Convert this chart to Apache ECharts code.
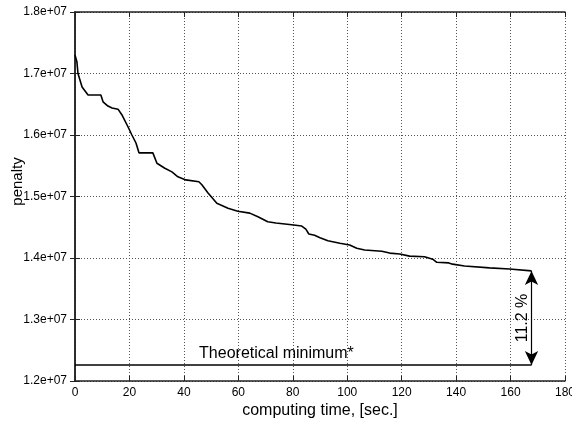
<!DOCTYPE html>
<html>
<head>
<meta charset="utf-8">
<script src="https://cdn.jsdelivr.net/npm/echarts@6/dist/echarts.min.js"></script>
<style>
  html, body { margin: 0; padding: 0; background: #fff; }
  #chart { width: 572px; height: 424px; }
</style>
</head>
<body>
<div id="chart"></div>
<script>
// computing time [sec.] and penalty
var timeSec = [0, 0.7, 1.1, 2.6, 4.8, 9.5, 10.3, 12.1, 13.6, 15.8, 17.2, 19.5, 20.9, 22.4, 23.5, 28.6,
  30.1, 33, 35.6, 37.8, 40.7, 45.5, 46.6, 48.8, 52.1, 56.2, 59.8, 64.2, 67.2, 69, 70.8, 73.8,
  79.6, 83.3, 84.8, 85.9, 88, 90, 92.9, 97.3, 100.9, 103.5, 106.4, 112.7, 115.6, 119.3, 122.9,
  128.4, 131.4, 132.9, 137.3, 138.7, 143.1, 152.3, 159.6, 167.7];
var penalty = [1.730e7, 1.719e7, 1.700e7, 1.678e7, 1.665e7, 1.665e7, 1.654e7, 1.647e7, 1.644e7, 1.642e7,
  1.633e7, 1.613e7, 1.600e7, 1.587e7, 1.571e7, 1.571e7,
  1.554e7, 1.546e7, 1.540e7, 1.532e7, 1.527e7, 1.524e7, 1.519e7, 1.506e7, 1.489e7, 1.481e7, 1.476e7,
  1.473e7, 1.467e7, 1.463e7, 1.459e7, 1.457e7,
  1.454e7, 1.452e7, 1.447e7, 1.439e7, 1.437e7, 1.433e7, 1.428e7, 1.424e7, 1.421e7, 1.416e7, 1.413e7,
  1.411e7, 1.408e7, 1.4065e7, 1.403e7,
  1.402e7, 1.398e7, 1.393e7, 1.392e7, 1.390e7, 1.387e7, 1.384e7, 1.382e7, 1.379e7];

var minPenalty = 1.226e7;
var minStart = 0, minEnd = 167.7;
var minLabel = 'Theoretical minimum*';
var minLabelAt = 74;
var gapLabel = '11.2 %';

var xTicks = [0, 20, 40, 60, 80, 100, 120, 140, 160, 180];
var yTicks = [1.2e7, 1.3e7, 1.4e7, 1.5e7, 1.6e7, 1.7e7, 1.8e7];
var yTickLabels = ['1.2e+07', '1.3e+07', '1.4e+07', '1.5e+07', '1.6e+07', '1.7e+07', '1.8e+07'];

var frameColor = '#222';
var font = 'Liberation Sans, Arial, Helvetica, sans-serif';

function yLabel(v) {
  for (var i = 0; i < yTicks.length; i++) {
    if (Math.abs(yTicks[i] - v) < 1) return yTickLabels[i];
  }
  return '';
}

var curve = timeSec.map(function (t, i) { return [t, penalty[i]]; });

var baseX = {
  type: 'value', min: xTicks[0], max: xTicks[xTicks.length - 1], interval: 20,
  axisLine: { show: true, lineStyle: { color: frameColor, width: 1.5 } },
  axisTick: { show: true, inside: true, length: 5, lineStyle: { color: frameColor, width: 1 } },
  splitLine: { show: false }
};
var baseY = {
  type: 'value', min: yTicks[0], max: yTicks[yTicks.length - 1], interval: 1e6,
  axisLine: { show: true, lineStyle: { color: frameColor, width: 1.5 } },
  axisTick: { show: true, inside: true, length: 5, lineStyle: { color: frameColor, width: 1 } },
  splitLine: { show: false }
};

var option = {
  backgroundColor: '#fff',
  animation: false,
  grid: { left: 75, right: 7, top: 12, bottom: 43, containLabel: false, outerBoundsMode: 'none' },
  xAxis: [
    Object.assign({}, baseX, {
      position: 'bottom',
      name: 'computing time, [sec.]',
      nameLocation: 'middle',
      nameGap: 22,
      nameMoveOverlap: false,
      nameTextStyle: { fontFamily: font, fontSize: 16, color: '#000' },
      axisLabel: { fontFamily: font, fontSize: 12, color: '#000', margin: 6 },
      splitLine: { show: true, lineStyle: { color: '#555', type: [1, 2], width: 1 } }
    }),
    Object.assign({}, baseX, { position: 'top', axisLabel: { show: false } })
  ],
  yAxis: [
    Object.assign({}, baseY, {
      position: 'left',
      name: 'penalty',
      nameLocation: 'middle',
      nameGap: 50,
      nameMoveOverlap: false,
      nameTextStyle: { fontFamily: font, fontSize: 15, color: '#000', padding: [0, 0, 0, 30] },
      axisLabel: { fontFamily: font, fontSize: 12, color: '#000', margin: 8, formatter: yLabel },
      splitLine: { show: true, lineStyle: { color: '#555', type: [1, 2], width: 1 } }
    }),
    Object.assign({}, baseY, { position: 'right', axisLabel: { show: false } })
  ],
  series: [
    {
      name: 'penalty',
      type: 'line',
      data: curve,
      showSymbol: false,
      lineStyle: { color: '#000', width: 1.6 },
      z: 3
    },
    {
      name: 'minimum',
      type: 'line',
      data: [[minStart, minPenalty], [minEnd, minPenalty]],
      showSymbol: false,
      lineStyle: { color: '#000', width: 1.6 },
      markPoint: {
        symbol: 'rect', symbolSize: 1,
        itemStyle: { color: 'transparent' },
        label: {
          show: true, position: 'top', distance: 3,
          formatter: minLabel,
          fontFamily: font, fontSize: 16, color: '#000'
        },
        data: [{ coord: [minLabelAt, minPenalty] }]
      },
      markLine: {
        silent: true,
        symbol: ['arrow', 'arrow'],
        symbolSize: [10, 14],
        lineStyle: { color: '#000', width: 1.2, type: 'solid' },
        label: {
          show: true, position: 'middle', distance: 1,
          formatter: gapLabel,
          fontFamily: font, fontSize: 16, color: '#000'
        },
        data: [[{ coord: [minEnd, minPenalty] }, { coord: [minEnd, penalty[penalty.length - 1]] }]]
      }
    }
  ]
};

var chart = echarts.init(document.getElementById('chart'));
chart.setOption(option);
</script>
</body>
</html>
